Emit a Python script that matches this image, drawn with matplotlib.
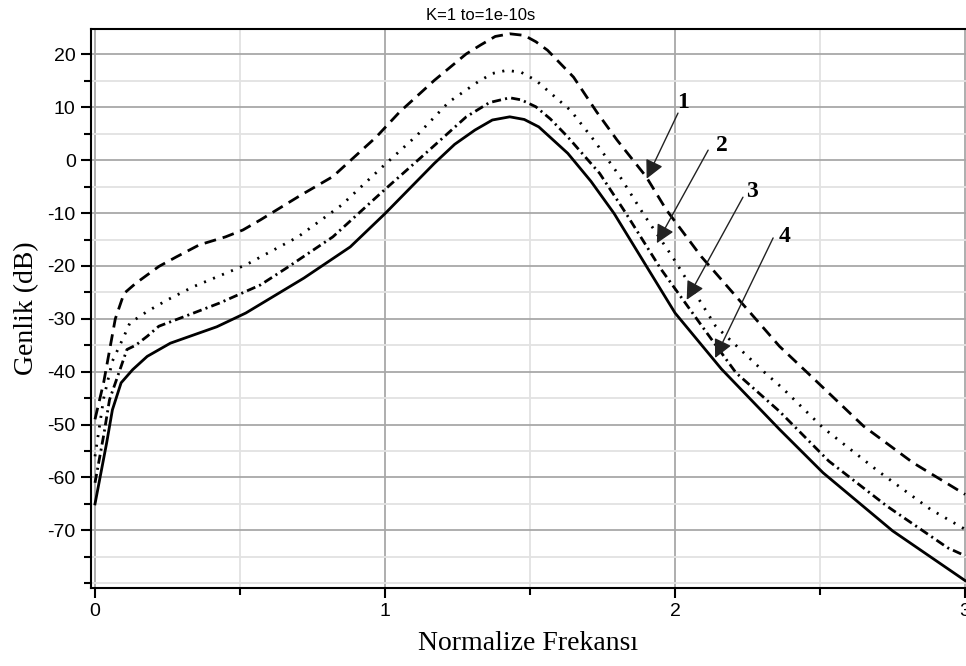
import numpy as np
import matplotlib
matplotlib.use('Agg')
import matplotlib.pyplot as plt
from matplotlib.ticker import MultipleLocator

plt.rcParams['axes.unicode_minus'] = False
plt.rcParams['lines.scale_dashes'] = False

# curve 1 (dashed)
x1 = [0, 0.03, 0.05, 0.07, 0.10, 0.14, 0.22, 0.28, 0.36, 0.45, 0.51, 0.57, 0.71, 0.82, 0.97,
      1.05, 1.17, 1.28, 1.33, 1.38, 1.43, 1.48, 1.52, 1.56, 1.65, 1.73, 1.80, 1.90, 1.97,
      2.09, 2.26, 2.36, 2.47, 2.65, 2.82, 3.0]
y1 = [-49, -42, -36, -30, -25.2, -23.3, -20.1, -18.3, -16.0, -14.5, -13.2, -11.3, -6.6, -3.1, 4.4,
      9.1, 15.1, 20.1, 21.8, 23.4, 23.9, 23.6, 22.4, 20.8, 15.7, 9.1, 3.8, -3.1, -9.4,
      -18.2, -28.9, -35.2, -40.9, -50.3, -57.2, -63.2]

# curve 2 (dotted)
x2 = [0, 0.03, 0.06, 0.10, 0.12, 0.18, 0.25, 0.34, 0.52, 0.70, 0.85, 0.99, 1.11, 1.22,
      1.32, 1.37, 1.42, 1.47, 1.52, 1.64, 1.72, 1.81, 1.89, 1.99, 2.14, 2.31, 2.37, 2.51,
      2.70, 2.88, 3.0]
y2 = [-56, -45, -38, -33.3, -30.8, -28.6, -26.4, -23.9, -19.8, -14.5, -8.5, -1.3, 4.7, 11.0,
      14.8, 16.4, 17.0, 16.6, 15.1, 9.4, 3.8, -3.1, -10.1, -18.2, -31.4, -40.2, -43.1, -50.6,
      -58.8, -66.0, -69.8]

# curve 3 (dash-dot)
x3 = [0, 0.03, 0.05, 0.09, 0.11, 0.14, 0.18, 0.22, 0.34, 0.43, 0.57, 0.66, 0.82, 0.99,
      1.14, 1.28, 1.36, 1.43, 1.47, 1.52, 1.57, 1.63, 1.74, 1.83, 1.95, 2.11, 2.21, 2.36,
      2.53, 2.73, 2.94, 3.0]
y3 = [-61, -52, -45.3, -39, -35.8, -35.0, -33.3, -31.4, -28.9, -27, -23.6, -20.4, -14.5, -6.0,
      1.3, 8.2, 10.9, 11.8, 11.4, 10.1, 7.8, 4.4, -2.5, -10.0, -20.5, -32.7, -40.2, -47.5,
      -56.9, -65.4, -73.3, -74.8]

# curve 4 (solid)
x4 = [0, 0.04, 0.06, 0.09, 0.13, 0.18, 0.26, 0.42, 0.52, 0.72, 0.88, 1.0, 1.17, 1.24, 1.31,
      1.37, 1.43, 1.48, 1.53, 1.63, 1.71, 1.79, 2.0, 2.16, 2.36, 2.51, 2.75, 3.0]
y4 = [-65, -53.5, -47.2, -42.1, -39.6, -37.1, -34.6, -31.5, -28.9, -22.3, -16.4, -10.1, -0.6, 3.0,
      5.7, 7.6, 8.2, 7.7, 6.3, 1.3, -4.0, -10.1, -28.9, -39.5, -50.9, -59.1, -70.1, -79.5]

labels = ['1', '2', '3', '4']
lab_xy = [(2.028, 11.0), (2.161, 2.8), (2.264, -6.0), (2.379, -14.5)]
tail_xy = [(2.010, 8.9), (2.114, 1.9), (2.234, -7.0), (2.338, -14.7)]
tip_xy = [(1.902, -3.5), (1.937, -15.7), (2.040, -26.4), (2.138, -37.4)]

tickfont = ['Liberation Sans Narrow', 'Liberation Sans', 'DejaVu Sans']
fontdic = {'family': ['Liberation Serif', 'DejaVu Serif'], 'color': 'black', 'size': 20}

fig = plt.figure(figsize=(9.66, 6.66), dpi=100)
ax = fig.add_axes([0.0942, 0.1171, 0.9058, 0.8393])

ax.plot(x1, y1, color='black', lw=2, ls=(0, (8.5, 5)))
ax.plot(x2, y2, color='black', lw=2, ls=(0, (1.5, 5.5)))
ax.plot(x3, y3, color='black', lw=2, ls=(0, (6.5, 3, 1.5, 3)))
ax.plot(x4, y4, color='black', lw=2)

# arrows pointing at the curves
for lab, lxy, t, h in zip(labels, lab_xy, tail_xy, tip_xy):
    ax.annotate('', xy=h, xytext=t,
                arrowprops=dict(arrowstyle='-|>', color='#222222', lw=1,
                                mutation_scale=28, shrinkA=0, shrinkB=0))
    ax.text(lxy[0], lxy[1], lab, ha='center', va='center', fontsize=17,
            fontweight='bold', family=['Liberation Serif', 'DejaVu Serif'])

ax.set_xlim(-0.0138, 3.003)
ax.set_ylim(-80.9, 24.8)
ax.xaxis.set_major_locator(MultipleLocator(1))
ax.xaxis.set_minor_locator(MultipleLocator(0.5))
ax.yaxis.set_major_locator(MultipleLocator(10))
ax.yaxis.set_minor_locator(MultipleLocator(5))
ax.set_yticks(np.arange(-70, 21, 10))

ax.grid(which='major', color='#a8a8a8', lw=1.3)
ax.grid(which='minor', color='#e2e2e2', lw=1.3)
ax.set_axisbelow(True)

for s in ['left', 'bottom', 'top']:
    ax.spines[s].set_linewidth(1.5)
    ax.spines[s].set_color('black')
ax.spines['right'].set_visible(False)

ax.tick_params(which='major', direction='out', length=7, width=1.5, pad=4, labelsize=14)
ax.tick_params(which='minor', direction='out', length=5, width=1.5)
for lab in ax.get_xticklabels() + ax.get_yticklabels():
    lab.set_family(tickfont)

ax.set_xlabel('Normalize Frekansı', fontdict=fontdic, labelpad=8)
ax.set_ylabel('Genlik (dB)', fontdict=fontdic, labelpad=6)
fig.text(481/966, 1-15/666, 'K=1 to=1e-10s', ha='center', va='center', fontsize=12,
         family=tickfont)

fig.savefig('out.png', dpi=100)
